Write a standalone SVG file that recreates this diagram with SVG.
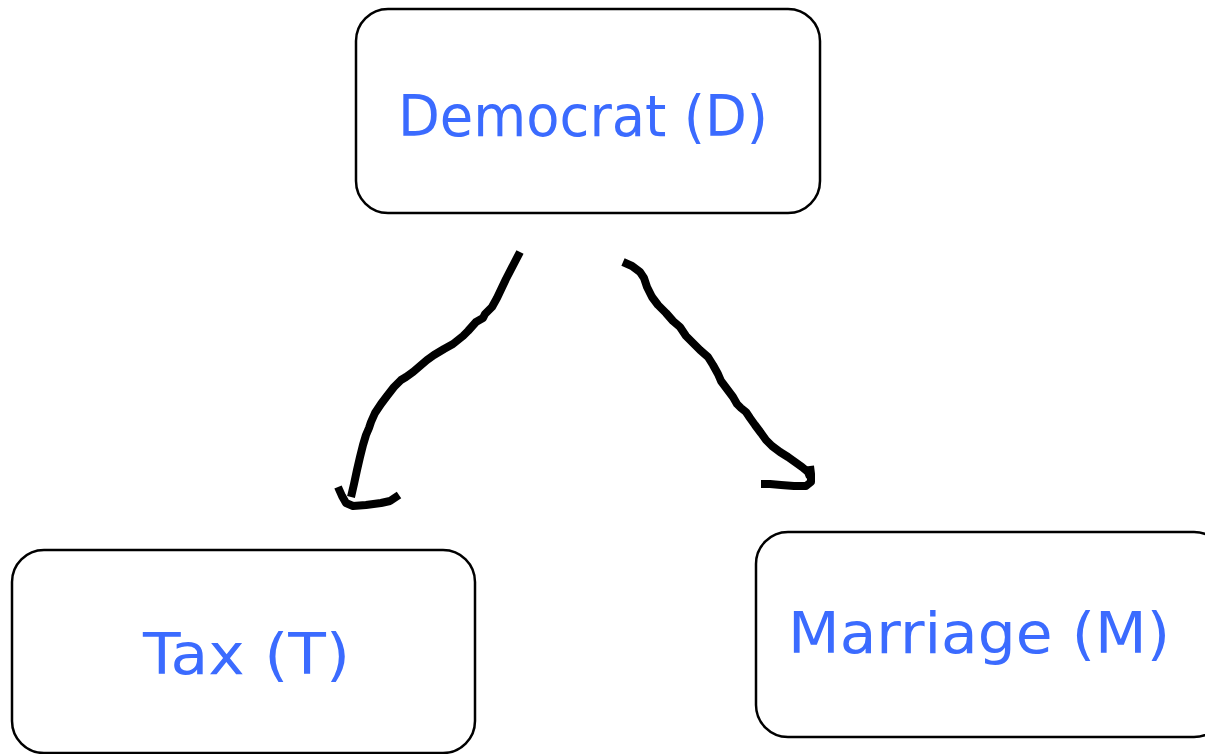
<svg xmlns="http://www.w3.org/2000/svg" width="1205" height="754" viewBox="0 0 1205 754">
  <style>
    .box { fill: #ffffff; stroke: #000000; stroke-width: 2.5; }
    .label { fill: #3b6bff; font-family: "Comic Sans MS", "DejaVu Sans", "Noto Sans", sans-serif; font-size: 57px; text-anchor: start; }
    .ink { fill: none; stroke: #000000; stroke-width: 8; stroke-linecap: butt; stroke-linejoin: round; }
  </style>
  <rect width="1205" height="754" fill="#ffffff"/>

  <!-- hand-drawn connectors -->
  <g id="connectors">
    <path class="ink" d="M520,252 L506,279 L497,298 L492,307 L485,314 L483,318 L476,322 L468,331 L463,336 L458,340 L453,344 L444,349 L434,355 L427,360 L420,366 L413,372 L406,377 L401,380 L394,387 L387,396 L381,404 L375,413 L371,422 L369,428 L366,435 L363,445 L360,457 L357,470 L354,484 L351,497"/>
    <path class="ink" d="M338,487 L342,496 L346,503 L353,506 L366,505 L381,503 L390,501 L399,495"/>
    <path class="ink" d="M623,262 L632,266 L640,272 L644,278 L647,287 L652,297 L658,305 L666,313 L673,321 L680,327 L686,336 L693,343 L700,350 L708,357 L713,365 L718,374 L721,381 L727,389 L733,397 L737,404 L741,408 L746,412 L750,418 L755,425 L761,433 L766,440 L772,446 L780,452 L788,457 L795,462 L802,467 L808,472 L810,477"/>
    <path class="ink" d="M810,466 L811,474 L811,482 L806,486 L794,486 L781,485 L770,484 L761,484"/>
  </g>

  <g id="node-democrat">
    <rect class="box" x="356" y="9" width="464" height="204" rx="32" ry="32"/>
    <text class="label" x="398" y="136" textLength="370" lengthAdjust="spacingAndGlyphs">Democrat (D)</text>
  </g>

  <g id="node-tax">
    <rect class="box" x="12" y="550" width="463" height="203" rx="32" ry="32"/>
    <text class="label" x="143" y="674" textLength="207" lengthAdjust="spacingAndGlyphs">Tax (T)</text>
  </g>

  <g id="node-marriage">
    <rect class="box" x="756" y="532" width="470" height="205" rx="32" ry="32"/>
    <text class="label" x="788" y="653" textLength="382" lengthAdjust="spacingAndGlyphs">Marriage (M)</text>
  </g>
</svg>
